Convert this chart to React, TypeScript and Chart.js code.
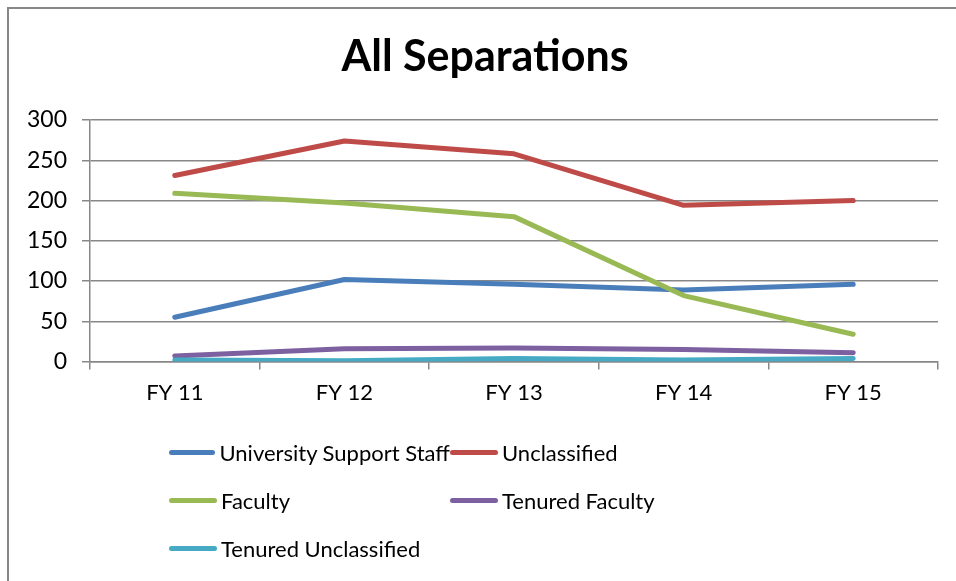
import React, { useEffect, useRef } from "react";
import { Chart, registerables } from "chart.js";

Chart.register(...registerables);

const chartTitle = "All Separations";
const categories = ["FY 11", "FY 12", "FY 13", "FY 14", "FY 15"];
const seriesNames = [
  "University Support Staff",
  "Unclassified",
  "Faculty",
  "Tenured Faculty",
  "Tenured Unclassified",
];
const supportStaff = [55, 102, 96, 89, 96];
const unclassified = [231, 274, 258, 194, 200];
const faculty = [209, 197, 180, 82, 34];
const tenuredFaculty = [7, 16, 17, 15, 11];
const tenuredUnclassified = [2, 1, 4, 2, 4];
const seriesValues = [supportStaff, unclassified, faculty, tenuredFaculty, tenuredUnclassified];
const seriesColors = ["#4A7EBB", "#BE4B48", "#98B954", "#7D60A0", "#46AAC5"];
const yMin = 0;
const yMax = 300;
const yStep = 50;

const FONT = "Lato, 'Open Sans', sans-serif";
const GRID = "#878787";

export default function App() {
  const canvasRef = useRef<HTMLCanvasElement | null>(null);

  useEffect(() => {
    if (!canvasRef.current) return;
    const chart = new Chart(canvasRef.current, {
      type: "line",
      data: {
        labels: categories,
        datasets: seriesNames.map((name, i) => ({
          label: name,
          data: seriesValues[i],
          borderColor: seriesColors[i],
          backgroundColor: seriesColors[i],
          borderWidth: 5,
          borderCapStyle: "round" as const,
          borderJoinStyle: "round" as const,
          pointRadius: 0,
          tension: 0,
          fill: false,
          order: seriesNames.length - i,
        })),
      },
      options: {
        animation: false,
        responsive: false,
        devicePixelRatio: 1,
        layout: { padding: { left: 0, right: 18, top: 120, bottom: 165 } },
        plugins: {
          legend: { display: false },
          tooltip: { enabled: false },
          title: { display: false },
        },
        scales: {
          x: {
            offset: true,
            grid: {
              offset: true,
              drawOnChartArea: false,
              drawTicks: true,
              tickLength: 8,
              color: GRID,
              lineWidth: 1.5,
            },
            border: { display: true, color: GRID, width: 1.5 },
            ticks: {
              color: "#000",
              font: { family: FONT, size: 22 },
              padding: 10,
              maxRotation: 0,
            },
          },
          y: {
            min: yMin,
            max: yMax,
            grid: { color: GRID, lineWidth: 1.5, tickLength: 8 },
            border: { display: true, color: GRID, width: 1.5 },
            ticks: {
              stepSize: yStep,
              color: "#000",
              font: { family: FONT, size: 23 },
              padding: 15,
            },
            afterFit: (scale: any) => {
              scale.width = 90;
            },
          },
        },
      },
    });
    return () => chart.destroy();
  }, []);

  return (
    <>
      <div
        style={{
          position: "fixed",
          left: 7,
          top: 7,
          right: 0,
          bottom: 0,
          borderLeft: `2px solid ${GRID}`,
          borderTop: `2px solid ${GRID}`,
          background: "#fff",
        }}
      />
      <canvas
        ref={canvasRef}
        width={956}
        height={581}
        style={{ position: "fixed", left: 0, top: 0, width: 956, height: 581 }}
      />
      <div
        style={{
          position: "fixed",
          left: 14,
          top: 29,
          width: 942,
          textAlign: "center",
          fontFamily: FONT,
          fontWeight: "bold",
          fontSize: 43,
          lineHeight: 1.2,
          color: "#000",
          whiteSpace: "nowrap",
        }}
      >
        {chartTitle}
      </div>
      <div
        style={{
          position: "fixed",
          left: 169,
          top: 428,
          display: "grid",
          gridTemplateColumns: "281px auto",
          gridAutoRows: "48px",
          fontFamily: FONT,
          fontSize: 22,
          color: "#000",
        }}
      >
        {seriesNames.map((name, i) => (
          <div key={name} style={{ display: "flex", alignItems: "center", whiteSpace: "nowrap" }}>
            <span
              style={{
                display: "inline-block",
                width: 48,
                height: 5,
                borderRadius: 3,
                background: seriesColors[i],
                marginRight: 4,
              }}
            />
            <span>{name}</span>
          </div>
        ))}
      </div>
    </>
  );
}
